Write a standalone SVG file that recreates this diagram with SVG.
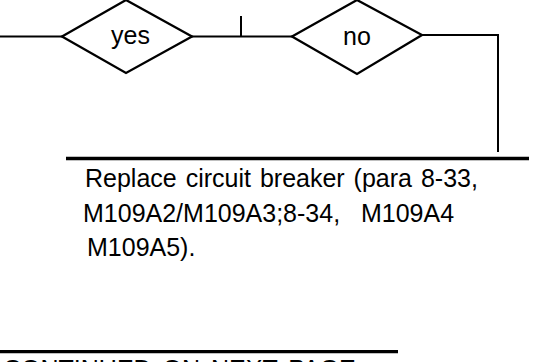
<svg xmlns="http://www.w3.org/2000/svg" width="539" height="362" viewBox="0 0 539 362">
<style>
.ln{stroke:#000;stroke-width:2;fill:none}
.th{stroke:#000;stroke-width:3.3;fill:none}
.dm{stroke:#000;stroke-width:2.3;fill:#fff;stroke-linejoin:miter}
.t{font-family:"Liberation Sans",Arial,sans-serif;font-size:25px;fill:#000}
.lb{font-family:"Liberation Sans",Arial,sans-serif;font-size:25px;fill:#000}
</style>
<rect width="539" height="362" fill="#fff"/>
<g id="connectors">
<path class="ln" d="M0 36.5H62"/>
<path class="ln" d="M192 36.5H292"/>
<path class="ln" d="M241 16V36.5"/>
<path class="ln" d="M422 35H498V152"/>
</g>
<g id="yes">
<polygon class="dm" points="62,36.5 126,0 192,36.5 126,73"/>
<text class="lb" x="111" y="44">yes</text>
</g>
<g id="no">
<polygon class="dm" points="292,36.5 357,0 422,35 357,74"/>
<text class="lb" x="343" y="45">no</text>
</g>
<g id="replace">
<path class="th" d="M66 158.5H529"/>
<text class="t" x="85" y="186.5" word-spacing="2">Replace circuit breaker (para 8-33,</text>
<text class="t" x="83" y="221.5" xml:space="preserve">M109A2/M109A3;8-34,   M109A4</text>
<text class="t" x="87" y="256">M109A5).</text>
</g>
<g id="continued">
<path class="th" d="M0 351.7H398"/>
<text class="t" x="3" y="378" word-spacing="4">CONTINUED ON NEXT PAGE</text>
</g>
</svg>
